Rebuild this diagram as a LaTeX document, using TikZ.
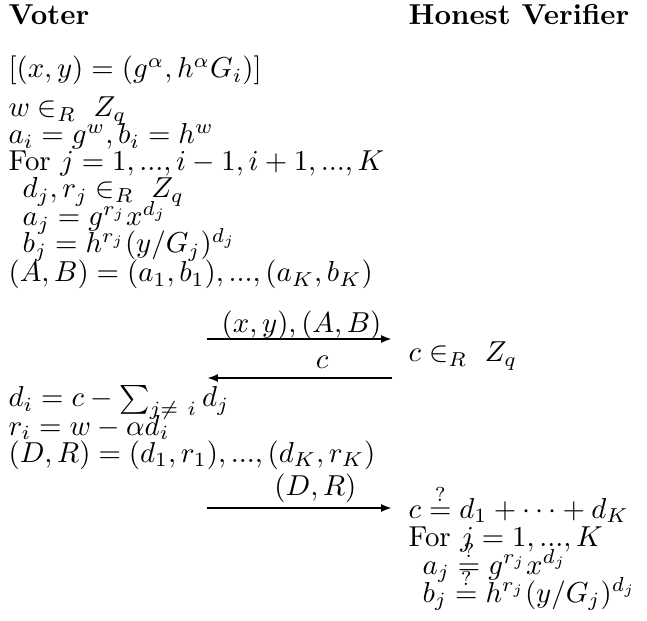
\documentclass[tikz,border=0pt]{standalone}
\usepackage{amsmath,amssymb}
\usetikzlibrary{arrows.meta}

\tikzset{
  msg/.style={-{Latex[length=3.8pt,width=2.8pt]}, line width=0.95pt},
  head/.style={anchor=base west, inner sep=0pt, font=\bfseries},
  txt/.style={anchor=base west, inner sep=0pt},
  lbl/.style={inner sep=0pt}
}

\begin{document}
\begin{tikzpicture}[x=0.347pt, y=-0.347pt]
\useasboundingbox (0,0) rectangle (647,621);
% parties
\node[head] (voter) at (8,25) {Voter};
\node[head] (verif) at (408,25) {Honest Verifier};
% voter, commitment
\node[txt] (v0) at (8,78) {$[(x,y)=(g^\alpha,h^\alpha G_i)]$};
\node[txt] (v1) at (8,117) {$w\in_R\ Z_q$};
\node[txt] (v2) at (8,144) {$a_i=g^w,b_i=h^w$};
\node[txt] (v3) at (8,171) {For $j=1,...,i-1,i+1,...,K$};
\node[txt] (v4) at (22,198) {$d_j,r_j\in_R\ Z_q$};
\node[txt] (v5) at (22,226) {$a_j=g^{r_j}x^{d_j}$};
\node[txt] (v6) at (22,253) {$b_j=h^{r_j}(y/G_j)^{d_j}$};
\node[txt] (v7) at (8,282) {$(A,B)=(a_1,b_1),...,(a_K,b_K)$};
% messages
\coordinate (m1a) at (207,339);
\coordinate (m1b) at (392,339);
\draw[msg] (m1a) -- (m1b);
\node[lbl, anchor=base east] (l1) at (382,333) {$(x,y),(A,B)$};
\node[txt] (h0) at (408,362) {$c\in_R\ Z_q$};
\coordinate (m2a) at (392,378);
\coordinate (m2b) at (207,378);
\draw[msg] (m2a) -- (m2b);
\node[lbl, anchor=base] (l2) at (322,368) {$c$};
% voter, response
\node[txt] (v8) at (8,407) {$d_i=c-\sum_{j\neq\ i}d_j$};
\node[txt] (v9) at (8,435) {$r_i=w-\alpha d_i$};
\node[txt] (v10) at (8,462) {$(D,R)=(d_1,r_1),...,(d_K,r_K)$};
\coordinate (m3a) at (207,508);
\coordinate (m3b) at (392,508);
\draw[msg] (m3a) -- (m3b);
\node[lbl, anchor=base east] (l3) at (357,495) {$(D,R)$};
% verifier checks
\node[txt] (h1) at (408,518) {$c\stackrel{?}{=}d_1+\cdots+d_K$};
\node[txt] (h2) at (408,546) {For $j=1,...,K$};
\node[txt] (h3) at (422,574) {$a_j\stackrel{?}{=}g^{r_j}x^{d_j}$};
\node[txt] (h4) at (422,602) {$b_j\stackrel{?}{=}h^{r_j}(y/G_j)^{d_j}$};
\end{tikzpicture}
\end{document}
